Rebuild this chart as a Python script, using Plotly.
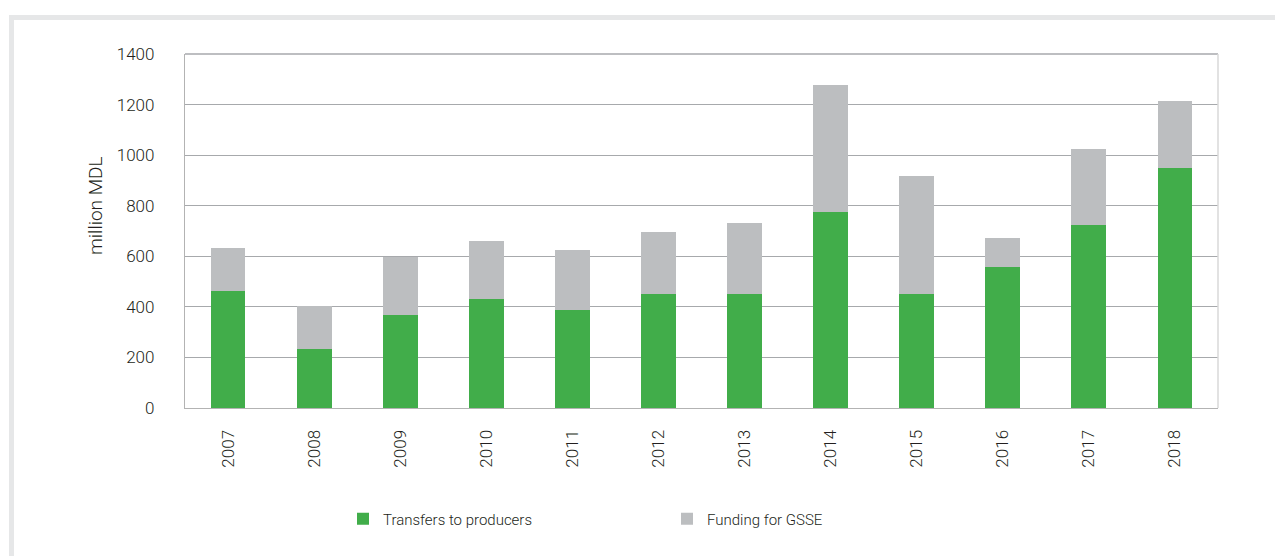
import plotly.graph_objects as go

years = ["2007", "2008", "2009", "2010", "2011", "2012", "2013", "2014", "2015", "2016", "2017", "2018"]
transfers = [464, 235, 366, 433, 389, 449, 449, 777, 452, 559, 725, 948]
totals = [634, 405, 599, 662, 626, 698, 733, 1279, 919, 674, 1026, 1215]
gsse = [t - p for t, p in zip(totals, transfers)]
y_ticks = [0, 200, 400, 600, 800, 1000, 1200, 1400]

GREEN = "#41ad4a"
GREY = "#bcbec0"
FONT = "Roboto"
TXT = "#231f20"

# the page body adds an 8px offset; compensate so the screen matches
OFF = 8
W, H = 1283, 556
L, R, T, B = 185 - OFF, 65 + OFF, 54 - OFF, 148 + OFF
pw, ph = W - L - R, H - T - B


def px_x(px):
    return (px - OFF - L) / pw


def px_y(py):
    return (H - B - (py - OFF)) / ph


fig = go.Figure()
fig.add_trace(go.Bar(x=years, y=transfers, name="Transfers to producers",
                     marker=dict(color=GREEN, line=dict(width=0))))
fig.add_trace(go.Bar(x=years, y=gsse, name="Funding for GSSE",
                     marker=dict(color=GREY, line=dict(width=0))))

fig.update_layout(
    width=W, height=H,
    margin=dict(l=L, r=R, t=T, b=B, autoexpand=False),
    barmode="stack",
    bargap=0.595,
    paper_bgcolor="white",
    plot_bgcolor="white",
    font=dict(family=FONT, size=17, color=TXT, weight=300),
    showlegend=True,
    legend=dict(
        orientation="h",
        x=px_x(343), xanchor="left",
        y=px_y(519), yanchor="middle",
        font=dict(family=FONT, size=15, color=TXT, weight=300),
        entrywidth=279, entrywidthmode="pixels",
        traceorder="normal",
        bgcolor="rgba(0,0,0,0)",
    ),
    xaxis=dict(
        type="category",
        tickangle=-90,
        showgrid=False,
        showline=True, linecolor="#b3b3b3", linewidth=1.3,
        ticks="", ticklabelstandoff=14,
        tickfont=dict(family=FONT, size=17, color=TXT, weight=300),
    ),
    yaxis=dict(
        range=[0, 1400],
        tickvals=y_ticks,
        ticktext=[str(v) for v in y_ticks],
        showgrid=True, gridcolor="#a7a9ac", gridwidth=1.3,
        zeroline=True, zerolinecolor="#b3b3b3", zerolinewidth=1.3,
        showline=True, linecolor="#b3b3b3", linewidth=1.3,
        ticks="", ticklabelstandoff=26,
        tickfont=dict(family=FONT, size=17, color=TXT, weight=300),
    ),
    annotations=[
        dict(text="million MDL", textangle=-90, showarrow=False,
             xref="paper", yref="paper", x=px_x(95), y=px_y(206),
             xanchor="center", yanchor="middle",
             font=dict(family=FONT, size=19, color=TXT, weight=300)),
    ],
    shapes=[
        # outer page frame
        dict(type="rect", xref="paper", yref="paper",
             x0=px_x(11.5), x1=px_x(1300), y0=px_y(580), y1=px_y(17.5),
             line=dict(color="#e6e7e8", width=5), fillcolor="rgba(0,0,0,0)", layer="below"),
        # top border of plot area
        dict(type="line", xref="paper", yref="paper", x0=0, x1=1, y0=1, y1=1,
             line=dict(color="#a7a9ac", width=1.3)),
        # right border of plot area
        dict(type="line", xref="paper", yref="paper", x0=1, x1=1, y0=0, y1=1,
             line=dict(color="#d9d9d9", width=1.5)),
    ],
)

fig.write_html("out.html")
